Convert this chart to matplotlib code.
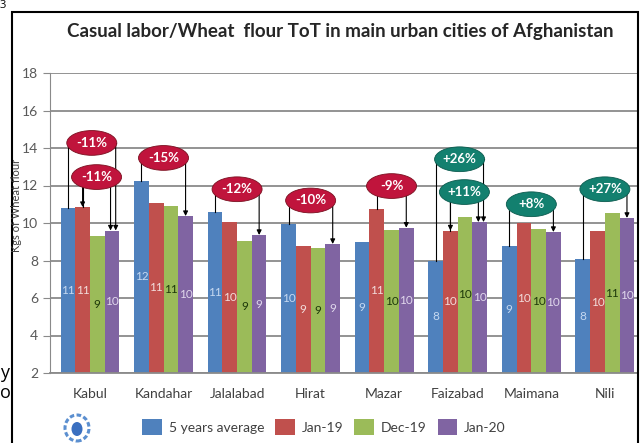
import numpy as np
import matplotlib
matplotlib.use('Agg')
from matplotlib import pyplot as plt
from matplotlib.patches import Ellipse, Rectangle

plt.rcParams['font.family'] = ['Lato', 'DejaVu Sans']

cities = ['Kabul', 'Kandahar', 'Jalalabad', 'Hirat', 'Mazar', 'Faizabad', 'Maimana', 'Nili']
series_names = ['5 years average', 'Jan-19', 'Dec-19', 'Jan-20']
avg_5y = [10.8, 12.24, 10.6, 9.95, 8.97, 7.98, 8.8, 8.07]
jan_19 = [10.85, 11.07, 10.05, 8.77, 10.75, 9.6, 9.98, 9.57]
dec_19 = [9.3, 10.9, 9.05, 8.67, 9.63, 10.33, 9.66, 10.53]
jan_20 = [9.6, 10.37, 9.36, 8.88, 9.75, 10.05, 9.52, 10.27]

# (city index, compared series, text, bubble height)
changes = [
    (0, 0, '-11%', 14.27),
    (0, 1, '-11%', 12.45),
    (1, 0, '-15%', 13.47),
    (2, 0, '-12%', 11.8),
    (3, 0, '-10%', 11.2),
    (4, 1, '-9%', 11.97),
    (5, 0, '+26%', 13.4),
    (5, 1, '+11%', 11.65),
    (6, 0, '+8%', 11.0),
    (7, 0, '+27%', 11.8),
]

colors = ['#4F81BD', '#C0504D', '#9BBB59', '#8064A2']
label_colors = ['#C6D9F1', '#F2DCDB', '#1E3A0A', '#E0D7EC']

fig = plt.figure(figsize=(6.43, 4.43), dpi=100)
ax = fig.add_axes([50 / 643, 70 / 443, 588 / 643, 300 / 443])

x = np.arange(len(cities))
w = 0.2
data = [avg_5y, jan_19, dec_19, jan_20]
for i, vals in enumerate(data):
    xs = x + (i - 1.5) * w
    ax.bar(xs, np.array(vals) - 2, bottom=2, width=w, color=colors[i],
           label=series_names[i], zorder=2)
    for xi, v in zip(xs, vals):
        ax.text(xi, (2 + v) / 2, '{:.0f}'.format(v), ha='center', va='center',
                fontsize=8.5, color=label_colors[i], zorder=3)

ax.set_xlim(-0.543, 7.45)
ax.set_ylim(2, 18)
ax.set_yticks(range(2, 19, 2))
ax.yaxis.grid(True, color='#8a8a8a', linewidth=1.3, zorder=0)
ax.set_axisbelow(True)
for s in ['top', 'right']:
    ax.spines[s].set_visible(False)
ax.spines['left'].set_color('#8a8a8a')
ax.spines['bottom'].set_color('#8a8a8a')
ax.spines['bottom'].set_linewidth(1.3)
ax.set_xticks(x)
ax.set_xticklabels(cities)
ax.tick_params(axis='x', length=0, pad=11, labelsize=10, labelcolor='#404040')
ax.tick_params(axis='y', length=5, color='#8a8a8a', labelsize=10, labelcolor='#595959')

# change bubbles with brackets
for ci, si, txt, yb in changes:
    same = [c for c in changes if c[0] == ci]
    j = same.index((ci, si, txt, yb))
    xl = ci + (si - 1.5) * w
    xr = ci + 1.5 * w
    if len(same) > 1:
        xr += 0.05 if j == 0 else -0.02
    yl = data[si][ci]
    yr = jan_20[ci]
    col = '#C0143C' if txt.startswith('-') else '#13806F'
    ax.plot([xl, xl, xr], [yl, yb, yb], color='black', lw=0.8, zorder=4)
    ax.annotate('', xy=(xr, yr), xytext=(xr, yb),
                arrowprops=dict(arrowstyle='-|>', color='black', lw=0.8,
                                mutation_scale=7, shrinkA=0, shrinkB=0), zorder=4)
    if j == 1:
        ax.annotate('', xy=(xl, yl), xytext=(xl, yb),
                    arrowprops=dict(arrowstyle='-|>', color='black', lw=0.8,
                                    mutation_scale=7, shrinkA=0, shrinkB=0), zorder=4)
    ax.add_patch(Ellipse(((xl + xr) / 2, yb), 0.68, 1.32, facecolor=col,
                         edgecolor='#7a1020' if col == '#C0143C' else '#0b5a4e',
                         lw=0.6, zorder=5))
    ax.text((xl + xr) / 2, yb, txt, ha='center', va='center', color='white',
            fontsize=9.5, fontweight='bold', zorder=6)

fig.text(340 / 643, 1 - 32 / 443, 'Casual labor/Wheat  flour ToT in main urban cities of Afghanistan',
         ha='center', va='center', fontsize=13.5, fontweight='bold', color='#262626')
fig.text(17 / 643, 1 - 205 / 443, 'Kgs of Wheat flour', rotation=90, ha='center',
         va='center', fontsize=8, color='#404040')

leg = fig.legend(loc='center', bbox_to_anchor=(324 / 643, 1 - 427 / 443), ncol=4,
                 frameon=False, fontsize=10, handlelength=1.4, handleheight=1.4,
                 columnspacing=0.8, handletextpad=0.5)
for t in leg.get_texts():
    t.set_color('#404040')

# WFP emblem, drawn as simple shapes
cx, cy = 77 / 643, 1 - 428 / 443
fig.add_artist(Ellipse((cx, cy), 24 / 643, 26 / 443, transform=fig.transFigure,
                       facecolor='white', edgecolor='#5b8fd0', lw=2.2, ls=(0, (1.5, 0.8))))
fig.add_artist(Ellipse((cx, cy - 1 / 443), 11 / 643, 14 / 443, transform=fig.transFigure,
                       facecolor='#3a6fc0', edgecolor='none'))

# border of the chart box and page fragments
fig.add_artist(Rectangle((12 / 643, -0.01), 626 / 643, 1 - 12 / 443 + 0.01,
                         transform=fig.transFigure, fill=False, edgecolor='black', lw=1.5))
fig.text(0, 1.0, '3', ha='left', va='top', fontsize=8, color='black',
         family=['Open Sans', 'DejaVu Sans'])
fig.text(0, 1 - 373 / 443, 'y', ha='left', va='center', fontsize=13, color='black',
         family=['Open Sans', 'DejaVu Sans'])
fig.text(0, 1 - 393 / 443, 'o', ha='left', va='center', fontsize=13, color='black',
         family=['Open Sans', 'DejaVu Sans'])

fig.savefig('out.png', dpi=100)
